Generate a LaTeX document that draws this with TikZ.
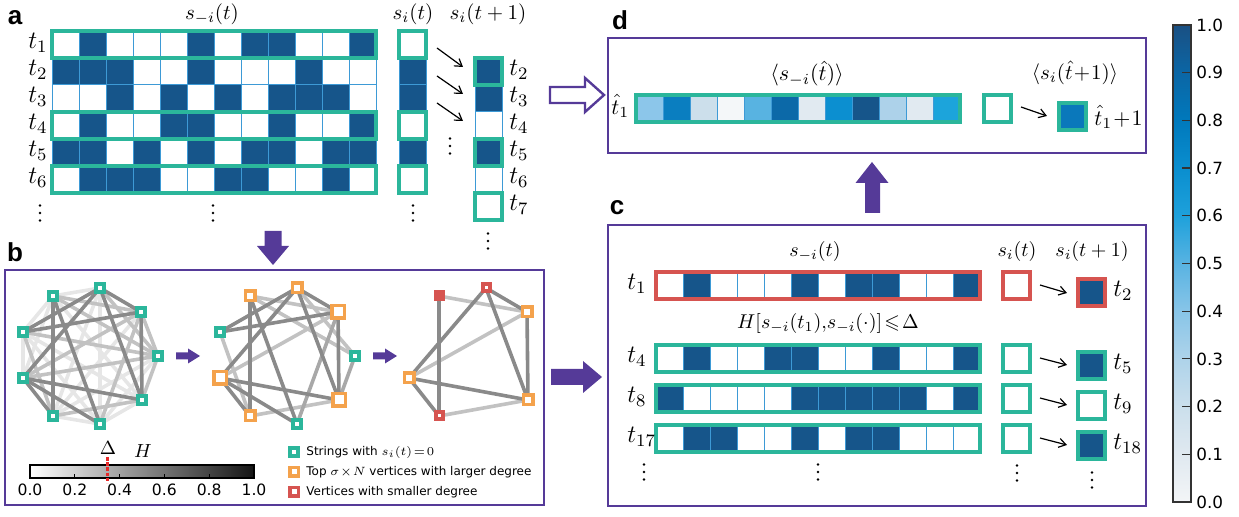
\documentclass[tikz,border=0pt]{standalone}
\usepackage{fix-cm}
\usepackage{amssymb}
\usepackage{fontspec}
\newfontfamily\djv{DejaVu Sans}
\newfontfamily\lbl{Liberation Sans}
\usetikzlibrary{arrows.meta}
\pgfdeclarelayer{bg}
\pgfsetlayers{bg,main}
\newcommand\fsz[1]{\fontsize{#1}{#1}\selectfont}
\definecolor{tealc}{HTML}{2BB69B}
\definecolor{cline}{HTML}{3D9AD6}
\definecolor{purp}{HTML}{553A98}
\definecolor{orng}{HTML}{F4A24C}
\definecolor{redc}{HTML}{D65450}
\definecolor{cv0}{HTML}{FFFFFF}
\definecolor{cv1}{HTML}{16558A}
\definecolor{eDc}{HTML}{8A8A8A}
\definecolor{eM2c}{HTML}{A8A8A8}
\definecolor{eMc}{HTML}{C2C2C2}
\definecolor{eLc}{HTML}{E6E6E6}
\definecolor{cb0}{HTML}{F3F5F7}
\definecolor{cb1}{HTML}{E0E9F0}
\definecolor{cb2}{HTML}{CBDFEC}
\definecolor{cb3}{HTML}{AED3EA}
\definecolor{cb4}{HTML}{88C5E8}
\definecolor{cb5}{HTML}{58B3E2}
\definecolor{cb6}{HTML}{1EA1DB}
\definecolor{cb7}{HTML}{0A8ECF}
\definecolor{cb8}{HTML}{0079BC}
\definecolor{cb9}{HTML}{0B66A5}
\definecolor{cb10}{HTML}{1A5083}
\definecolor{cd0}{HTML}{8CC6EA}
\definecolor{cd1}{HTML}{0A7EC0}
\definecolor{cd2}{HTML}{CCDFEB}
\definecolor{cd3}{HTML}{F4F7F9}
\definecolor{cd4}{HTML}{58B3E1}
\definecolor{cd5}{HTML}{0C69A8}
\definecolor{cd6}{HTML}{E1EAF1}
\definecolor{cd7}{HTML}{0C8FD0}
\definecolor{cd8}{HTML}{16558A}
\definecolor{cd9}{HTML}{ADD2EA}
\definecolor{cd10}{HTML}{E1EAF1}
\definecolor{cd11}{HTML}{1CA4DB}
\definecolor{cres}{HTML}{0A78BB}
\pgfdeclareverticalshading{bluecb}{100bp}{color(0bp)=(cb0); color(25bp)=(cb0); color(30bp)=(cb1); color(35bp)=(cb2); color(40bp)=(cb3); color(45bp)=(cb4); color(50bp)=(cb5); color(55bp)=(cb6); color(60bp)=(cb7); color(65bp)=(cb8); color(70bp)=(cb9); color(75bp)=(cb10); color(100bp)=(cb10)}
\newcommand\cellrow[3]{\foreach \v [count=\i from 0] in {#3} {\filldraw[fill=cv\v, cellc] ({#1+27*\i},#2) rectangle ++(27,27);}}
\newcommand\outbox[4]{\filldraw[fill=cv#3, draw=#4, line width=1.8pt] (#1,#2) rectangle ++(27,27);}
\newcommand\plainbox[3]{\filldraw[fill=cv#3, cellc] (#1,#2) rectangle ++(27,27);}
\newcommand\vdt[2]{\foreach \k in {-1,0,1} {\fill (#1,{#2+7.5*\k}) circle (0.65pt);}}
\begin{document}
\begin{tikzpicture}[x=0.5pt,y=-0.5pt,
  cellc/.style={draw=cline, line width=0.5pt},
  tbox/.style={draw=tealc, line width=1.8pt},
  rbox/.style={draw=redc, line width=1.8pt},
  panel/.style={draw=purp, line width=1.3pt},
  arr/.style={-{Straight Barb[length=3.5pt,width=4.5pt]}, line width=0.6pt},
  hdr/.style={font=\fsz{10.5}, inner sep=0pt},
  hdrc/.style={font=\fsz{10}, inner sep=0pt},
  tl/.style={font=\fsz{12.5}, inner sep=0pt, anchor=west},
  plabel/.style={font=\lbl\bfseries\fsz{13}, inner sep=0pt},
  blk/.style={fill=purp},
  gt/.style={rectangle, draw=tealc, fill=white, line width=2pt, minimum size=4pt, inner sep=0pt},
  goL/.style={rectangle, draw=orng, fill=white, line width=1.75pt, minimum size=6.25pt, inner sep=0pt},
  goM/.style={rectangle, draw=orng, fill=white, line width=1.75pt, minimum size=4.75pt, inner sep=0pt},
  grd/.style={rectangle, draw=redc, fill=white, line width=2pt, minimum size=3.5pt, inner sep=0pt},
  grs/.style={rectangle, fill=redc, minimum size=5.5pt, inner sep=0pt},
  lgo/.style={rectangle, draw=orng, fill=white, line width=1.75pt, minimum size=4.25pt, inner sep=0pt},
  lgr/.style={rectangle, draw=redc, fill=white, line width=1.75pt, minimum size=4.25pt, inner sep=0pt},
  eD/.style={draw=eDc, line width=1.8pt},
  eM2/.style={draw=eM2c, line width=1.8pt},
  eM/.style={draw=eMc, line width=1.8pt},
  eL/.style={draw=eLc, line width=1.8pt},
  tick/.style={font=\djv\fsz{8.4}, inner sep=0pt, anchor=west},
  btick/.style={font=\djv\fsz{7.8}, inner sep=0pt},
  legt/.style={font=\djv\fsz{6.0}, inner sep=0pt, anchor=west}]
\useasboundingbox (0,0) rectangle (1239,517);

% ================= panel a =================
\node[plabel] (la) at (15,18) {a};
\node[hdr] (ah1) at (212,14) {$s_{-i}(t)$};
\node[hdr] (ah2) at (413,14) {$s_i(t)$};
\node[hdr] (ah3) at (488,14) {$s_i(t+1)$};
\cellrow{52}{31}{0,1,0,0,0,1,0,1,1,0,0,1}
\cellrow{52}{58}{1,1,1,0,0,1,0,0,0,1,0,0}
\cellrow{52}{85}{0,0,1,0,1,0,1,0,1,1,1,0}
\cellrow{52}{112}{0,1,0,0,1,1,0,0,1,0,0,1}
\cellrow{52}{139}{1,1,0,1,0,1,0,1,1,0,1,1}
\cellrow{52}{166}{0,1,1,1,0,0,1,1,0,0,1,0}
\draw[tbox] (52,31) rectangle ++(324,27);
\draw[tbox] (52,112) rectangle ++(324,27);
\draw[tbox] (52,166) rectangle ++(324,27);
\foreach \y/\s in {42.5/1,69.5/2,96.5/3,123.5/4,150.5/5,177.5/6}
  \node[tl] (at\s) at (28,\y) {$t_{\s}$};
% s_i(t) column
\plainbox{399}{58}{1}
\plainbox{399}{85}{1}
\plainbox{399}{139}{1}
\outbox{399}{31}{0}{tealc}
\outbox{399}{112}{0}{tealc}
\outbox{399}{166}{0}{tealc}
% s_i(t+1) column
\plainbox{475}{85}{1}
\plainbox{475}{112}{0}
\plainbox{475}{166}{0}
\outbox{475}{58}{1}{tealc}
\outbox{475}{139}{1}{tealc}
\outbox{475}{193}{0}{tealc}
\foreach \y/\s in {69.5/2,96.5/3,123.5/4,150.5/5,177.5/6,204.5/7}
  \node[tl] (atr\s) at (509,\y) {$t_{\s}$};
\coordinate (aa1) at (437,48); \coordinate (ab1) at (463,67);
\coordinate (aa2) at (437,76); \coordinate (ab2) at (463,94);
\coordinate (aa3) at (437,103); \coordinate (ab3) at (463,121);
\draw[arr] (aa1) -- (ab1);
\draw[arr] (aa2) -- (ab2);
\draw[arr] (aa3) -- (ab3);
\vdt{40}{213}
\vdt{213}{213}
\vdt{413}{213}
\vdt{450}{146}
\vdt{488}{241}

% arrow a -> b
\fill[blk] (264.5,231) -- (281.5,231) -- (281.5,246) -- (289,246) -- (273,265) -- (257,246) -- (264.5,246) -- cycle;

% ================= panel b =================
\node[plabel] (lb) at (15,252) {b};
\draw[panel] (5,270) rectangle (544,505);
% graph 1
\node[gt] (g1n1) at (100,288) {};
\node[gt] (g1n2) at (141,312) {};
\node[gt] (g1n3) at (158,356) {};
\node[gt] (g1n4) at (142,400) {};
\node[gt] (g1n5) at (100,424) {};
\node[gt] (g1n6) at (53,416) {};
\node[gt] (g1n7) at (23,378) {};
\node[gt] (g1n8) at (23,332) {};
\node[gt] (g1n9) at (53,296) {};
\begin{pgfonlayer}{bg}
\foreach \a/\b in {1/5,1/6,1/9,2/6,3/5,3/6,4/5,4/8,4/9,5/6,5/8,7/8,7/9,8/9}
  \draw[eL] (g1n\a.center) -- (g1n\b.center);
\foreach \a/\b in {1/3,2/3,2/5,2/7,2/9,3/4,3/7,3/8,3/9,4/6,6/8}
  \draw[eM] (g1n\a.center) -- (g1n\b.center);
\foreach \a/\b in {1/2,1/4,1/7,1/8,2/4,2/8,4/7,5/7,5/9,6/7,6/9}
  \draw[eD] (g1n\a.center) -- (g1n\b.center);
\end{pgfonlayer}
\fill[blk] (176,352.5) -- (188,352.5) -- (188,348.5) -- (200,356) -- (188,363.5) -- (188,359.5) -- (176,359.5) -- cycle;
% graph 2
\begin{scope}[shift={(197,0)}]
\node[goM] (g2n1) at (100,288) {};
\node[goL] (g2n2) at (141,312) {};
\node[gt]  (g2n3) at (158,356) {};
\node[goL] (g2n4) at (142,400) {};
\node[gt]  (g2n5) at (100,424) {};
\node[goM] (g2n6) at (53,416) {};
\node[goL] (g2n7) at (23,378) {};
\node[gt]  (g2n8) at (23,332) {};
\node[goM] (g2n9) at (53,296) {};
\end{scope}
\begin{pgfonlayer}{bg}
\foreach \a/\b in {1/3,2/7,2/9,3/9,6/8,4/6}
  \draw[eM] (g2n\a.center) -- (g2n\b.center);
\foreach \a/\b in {2/5,3/4}
  \draw[eM2] (g2n\a.center) -- (g2n\b.center);
\foreach \a/\b in {1/2,1/4,1/7,1/8,2/4,2/8,4/7,5/7,5/9,6/7,6/9}
  \draw[eD] (g2n\a.center) -- (g2n\b.center);
\end{pgfonlayer}
\fill[blk] (373,352.5) -- (385,352.5) -- (385,348.5) -- (397,356) -- (385,363.5) -- (385,359.5) -- (373,359.5) -- cycle;
% graph 3
\begin{scope}[shift={(386,0)}]
\node[grd] (g3n1) at (100,288) {};
\node[goM] (g3n2) at (141,312) {};
\node[goM] (g3n4) at (142,400) {};
\node[grd] (g3n6) at (53,416) {};
\node[goM] (g3n7) at (23,378) {};
\node[grs] (g3n9) at (53,296) {};
\end{scope}
\begin{pgfonlayer}{bg}
\foreach \a/\b in {9/2,2/7,6/4}
  \draw[eM] (g3n\a.center) -- (g3n\b.center);
\foreach \a/\b in {9/6,1/2,1/4,1/7,2/4,7/4,7/6}
  \draw[eD] (g3n\a.center) -- (g3n\b.center);
\end{pgfonlayer}
% grayscale colorbar
\shade[left color=white, right color=black!92] (30,465) rectangle (254,478);
\draw[line width=0.6pt] (30,465) rectangle (254,478);
\foreach \k/\lab in {0/0.0,1/0.2,2/0.4,3/0.6,4/0.8,5/1.0} {
  \draw[line width=0.5pt] ({30+44.8*\k},478) -- ++(0,-4);
  \node[btick] (bt\k) at ({30+44.8*\k},490) {\lab};
}
\draw[draw={rgb,255:red,232;green,40;blue,40}, line width=1.5pt, dash pattern=on 1.8pt off 0.8pt] (107,457) -- (107,483);
\node[font=\fsz{9.5}, inner sep=0pt] (delta) at (108,448) {$\Delta$};
\node[font=\fsz{9.5}, inner sep=0pt] (hlab) at (143,451) {$H$};
% legend
\node[gt] (lg1) at (294,452) {};
\node[lgo] (lg2) at (294,472) {};
\node[lgr] (lg3) at (294,492) {};
\node[legt] (lt1) at (306,452) {Strings with $s_i(t)\!=\!0$};
\node[legt] (lt2) at (306,472) {Top $\sigma\!\times\! N$ vertices with larger degree};
\node[legt] (lt3) at (306,492) {Vertices with smaller degree};

% arrow b -> c
\fill[blk] (551,369) -- (583,369) -- (583,361) -- (602,377) -- (583,393) -- (583,385) -- (551,385) -- cycle;

% ================= panel c =================
\node[plabel] (lc) at (617,208) {c};
\draw[panel] (608,225) rectangle (1146,506);
\node[hdrc] (ch1) at (815,252) {$s_{-i}(t)$};
\node[hdrc] (ch2) at (1017,252) {$s_i(t)$};
\node[hdrc] (ch3) at (1092,252) {$s_i(t+1)$};
\node[hdrc] (chh) at (828,324) {$H[s_{-i}(t_1),\!s_{-i}(\cdot)]\!\leqslant\!\Delta$};
\cellrow{656}{272}{0,1,0,0,0,1,0,1,1,0,0,1}
\cellrow{656}{345}{0,1,0,0,1,1,0,0,1,0,0,1}
\cellrow{656}{385}{1,0,0,0,0,1,1,1,1,1,0,1}
\cellrow{656}{425}{0,1,1,0,0,1,0,1,1,0,0,0}
\draw[rbox] (656,272) rectangle ++(324,27);
\draw[tbox] (656,345) rectangle ++(324,27);
\draw[tbox] (656,385) rectangle ++(324,27);
\draw[tbox] (656,425) rectangle ++(324,27);
\node[tl] (ct1) at (627,284) {$t_{1}$};
\node[tl] (ct4) at (627,357) {$t_{4}$};
\node[tl] (ct8) at (627,397) {$t_{8}$};
\node[tl] (ct17) at (627,437) {$t_{17}$};
\outbox{1003}{272}{0}{redc}
\outbox{1003}{345}{0}{tealc}
\outbox{1003}{385}{0}{tealc}
\outbox{1003}{425}{0}{tealc}
\outbox{1078}{279}{1}{redc}
\outbox{1078}{352}{1}{tealc}
\outbox{1078}{392}{0}{tealc}
\outbox{1078}{432}{1}{tealc}
\node[tl] (ctr2) at (1113,291) {$t_{2}$};
\node[tl] (ctr5) at (1113,364) {$t_{5}$};
\node[tl] (ctr9) at (1113,404) {$t_{9}$};
\node[tl] (ctr18) at (1113,444) {$t_{18}$};
\coordinate (ca1) at (1040,285); \coordinate (cb1) at (1067,293);
\coordinate (ca2) at (1040,358); \coordinate (cb2) at (1067,365);
\coordinate (ca3) at (1040,398); \coordinate (cb3) at (1067,405);
\coordinate (ca4) at (1040,438); \coordinate (cb4) at (1067,445);
\draw[arr] (ca1) -- (cb1);
\draw[arr] (ca2) -- (cb2);
\draw[arr] (ca3) -- (cb3);
\draw[arr] (ca4) -- (cb4);
\vdt{644}{472}
\vdt{818}{472}
\vdt{1017}{473}
\vdt{1092}{480}

% arrow c -> d
\fill[blk] (865,213) -- (880,213) -- (880,183) -- (888.5,183) -- (872,162) -- (855.5,183) -- (865,183) -- cycle;

% ================= panel d =================
\node[plabel] (ld) at (620,20) {d};
\draw[panel] (608,38) rectangle (1146,153);
\draw[draw=purp, line width=1.2pt, fill=white] (550,87) -- (585,87) -- (585,78) -- (604,95) -- (585,112) -- (585,103) -- (550,103) -- cycle;
\node[font=\fsz{11}, inner sep=0pt] (dh1) at (807,74) {$\langle s_{-i}(\hat t)\rangle$};
\node[font=\fsz{10.5}, inner sep=0pt] (dh2) at (1075,73) {$\langle s_i(\hat t\!+\!1)\rangle$};
\node[font=\fsz{11}, inner sep=0pt, anchor=west] (dt1) at (611,106) {$\hat t_1$};
\foreach \i in {0,...,11}
  \filldraw[fill=cd\i, cellc] ({636+27*\i},95) rectangle ++(27,27);
\draw[tbox] (636,95) rectangle (960,122);
\filldraw[fill=white, draw=tealc, line width=1.8pt] (984,95) rectangle ++(27,27);
\filldraw[fill=cres, draw=tealc, line width=1.8pt] (1059,103) rectangle ++(27,27);
\coordinate (da) at (1021,107); \coordinate (db) at (1047,116);
\draw[arr] (da) -- (db);
\node[font=\fsz{11}, inner sep=0pt, anchor=west] (dt2) at (1094,117) {$\hat t_1\!+\!1$};

% ================= colour bar =================
\shade[shading=bluecb] (1173,25) rectangle (1191,502);
\draw[draw=black!80, line width=0.6pt] (1173,25) rectangle (1191,502);
\foreach \k/\lab in {0/0.0,1/0.1,2/0.2,3/0.3,4/0.4,5/0.5,6/0.6,7/0.7,8/0.8,9/0.9,10/1.0} {
  \draw[line width=0.6pt, black!80] (1191,{502-47.7*\k}) -- ++(-9,0);
  \node[tick] (cbt\k) at (1196,{502-47.7*\k}) {\lab};
}
\end{tikzpicture}
\end{document}
